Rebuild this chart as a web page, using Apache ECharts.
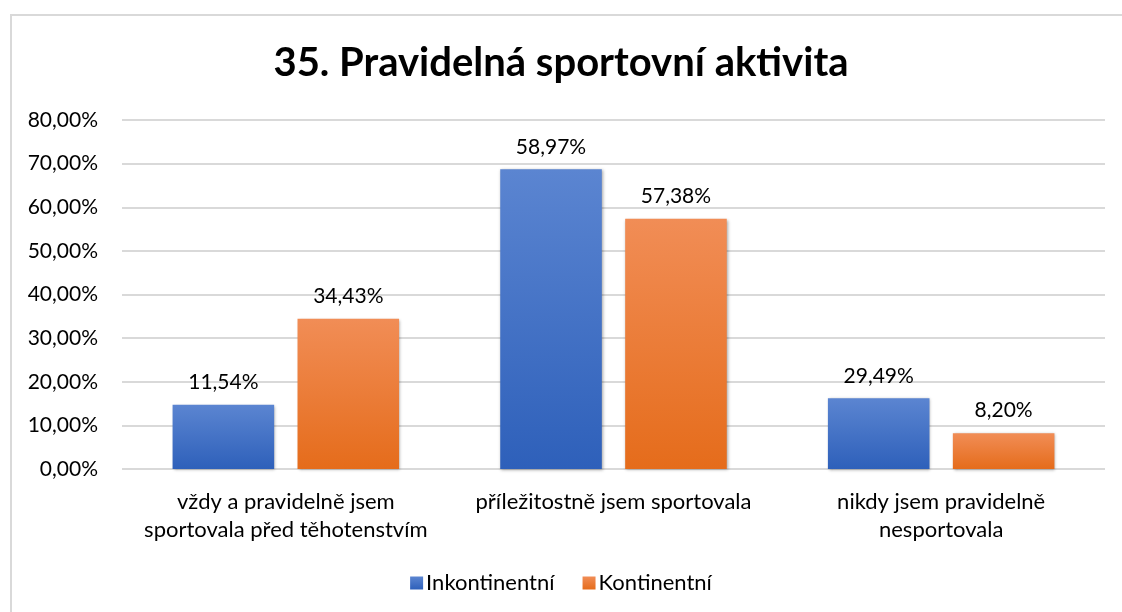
<!DOCTYPE html>
<html>
<head>
<meta charset="utf-8">
<script src="https://cdn.jsdelivr.net/npm/echarts@6/dist/echarts.min.js"></script>
<style>
  html, body { margin: 0; padding: 0; background: #fff; }
  #frame {
    position: absolute; left: 10px; top: 14px; width: 1140px; height: 640px;
    border: 2px solid #d9d9d9; box-sizing: border-box;
  }
  #chart { position: absolute; left: 0; top: 0; width: 1122px; height: 612px; }
</style>
</head>
<body>
<div id="frame"></div>
<div id="chart"></div>
<script>
// kategorie a hodnoty
const categories = [
  'vždy a pravidelně jsem\nsportovala před těhotenstvím',
  'příležitostně jsem sportovala',
  'nikdy jsem pravidelně\nnesportovala'
];
const seriesNames = ['Inkontinentní', 'Kontinentní'];
// výšky sloupců podle osy
const inkontinentni = [14.7, 68.7, 16.2];
const kontinentni = [34.43, 57.38, 8.2];
// popisky nad sloupci (jak jsou v grafu)
const inkontinentniLabels = ['11,54%', '58,97%', '29,49%'];
const kontinentniLabels = ['34,43%', '57,38%', '8,20%'];
const yTicks = [0, 10, 20, 30, 40, 50, 60, 70, 80];

const font = 'Lato, "Open Sans", sans-serif';

function grad(top, bottom) {
  return new echarts.graphic.LinearGradient(0, 0, 0, 1, [
    { offset: 0, color: top },
    { offset: 1, color: bottom }
  ]);
}

const chart = echarts.init(document.getElementById('chart'));

const labelStyle = {
  show: true,
  position: 'top',
  distance: 12,
  fontFamily: font,
  fontSize: 21,
  color: '#000'
};

const option = {
  animation: false,
  title: {
    text: '35. Pravidelná sportovní aktivita',
    left: 'center',
    top: 38,
    textStyle: { fontFamily: font, fontWeight: 'bold', fontSize: 40, color: '#000' }
  },
  legend: {
    data: seriesNames,
    bottom: 13,
    left: 'center',
    itemWidth: 13,
    itemHeight: 13,
    itemGap: 28,
    icon: 'rect',
    textStyle: { fontFamily: font, fontSize: 22, color: '#000', padding: [0, 0, 0, -2] }
  },
  grid: { left: 122, right: 17, top: 120, bottom: 143 },
  xAxis: {
    type: 'category',
    data: categories,
    axisLine: { show: false },
    axisTick: { show: false },
    axisLabel: {
      fontFamily: font,
      fontSize: 22,
      color: '#000',
      margin: 19,
      lineHeight: 28,
      interval: 0
    }
  },
  yAxis: {
    type: 'value',
    min: yTicks[0],
    max: yTicks[yTicks.length - 1],
    interval: 10,
    axisLine: { show: false },
    axisTick: { show: false },
    splitLine: { lineStyle: { color: '#d9d9d9', width: 2 } },
    axisLabel: {
      fontFamily: font,
      fontSize: 21,
      color: '#000',
      margin: 24,
      formatter: v => v.toFixed(2).replace('.', ',') + '%'
    }
  },
  series: [
    {
      name: seriesNames[0],
      type: 'bar',
      data: inkontinentni,
      barWidth: '31%',
      barGap: '23%',
      itemStyle: {
        color: grad('#5b85d1', '#2e60ba'),
        shadowBlur: 3,
        shadowColor: 'rgba(0,0,0,0.35)',
        shadowOffsetX: 1,
        shadowOffsetY: 1
      },
      label: Object.assign({}, labelStyle, {
        formatter: p => inkontinentniLabels[p.dataIndex]
      })
    },
    {
      name: seriesNames[1],
      type: 'bar',
      data: kontinentni,
      barWidth: '31%',
      itemStyle: {
        color: grad('#f18d56', '#e56c1b'),
        shadowBlur: 3,
        shadowColor: 'rgba(0,0,0,0.35)',
        shadowOffsetX: 1,
        shadowOffsetY: 1
      },
      label: Object.assign({}, labelStyle, {
        formatter: p => kontinentniLabels[p.dataIndex]
      })
    }
  ]
};

chart.setOption(option);
</script>
</body>
</html>
